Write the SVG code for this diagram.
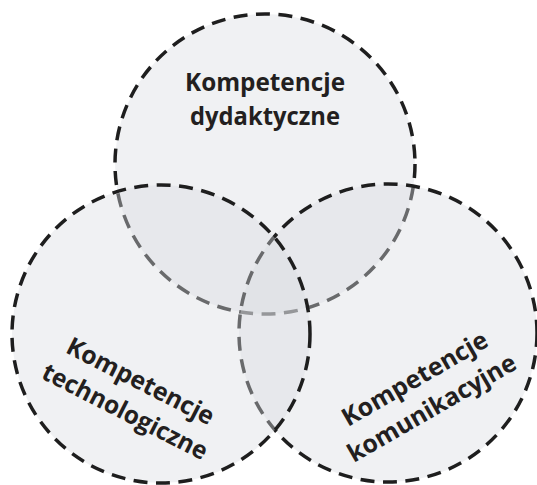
<svg xmlns="http://www.w3.org/2000/svg" width="537" height="485" viewBox="0 0 537 485">
  <style>
    .ring { fill: #d9dce1; fill-opacity: 0.4; stroke: #1e1e1e; stroke-width: 3.5; stroke-dasharray: 14 8.5; }
    .label { font-family: "Open Sans", "Liberation Sans", sans-serif; font-weight: bold; font-size: 25px; fill: #231f20; text-anchor: middle; }
  </style>
  <rect width="537" height="485" fill="#ffffff"/>
  <!-- drawing order: top, right, left (later fills soften earlier strokes) -->
  <g id="node-dydaktyczne">
    <circle class="ring" cx="265" cy="164" r="150"/>
    <text class="label" x="265" y="91" textLength="160" lengthAdjust="spacingAndGlyphs">Kompetencje</text>
    <text class="label" x="265" y="125" textLength="150" lengthAdjust="spacingAndGlyphs">dydaktyczne</text>
  </g>
  <g id="node-komunikacyjne">
    <circle class="ring" cx="388" cy="333" r="149"/>
    <g transform="translate(423 393) rotate(-30)">
      <text class="label" x="0" y="-8" textLength="164" lengthAdjust="spacingAndGlyphs">Kompetencje</text>
      <text class="label" x="0" y="26" textLength="190" lengthAdjust="spacingAndGlyphs">komunikacyjne</text>
    </g>
  </g>
  <g id="node-technologiczne">
    <circle class="ring" cx="161" cy="334" r="149"/>
    <g transform="translate(133 396) rotate(27)">
      <text class="label" x="0" y="-8" textLength="162" lengthAdjust="spacingAndGlyphs">Kompetencje</text>
      <text class="label" x="0" y="26" textLength="182" lengthAdjust="spacingAndGlyphs">technologiczne</text>
    </g>
  </g>
  <g id="connectors"/>
</svg>
